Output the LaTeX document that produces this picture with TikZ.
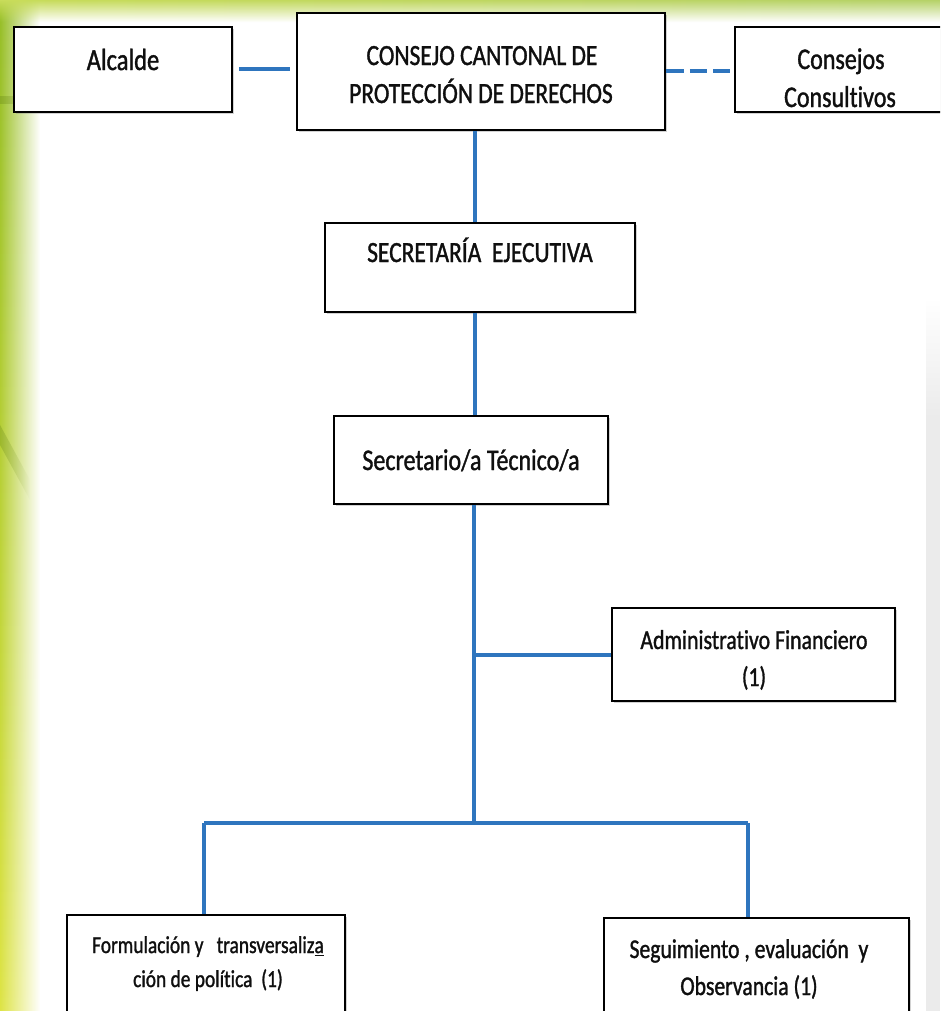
\documentclass[tikz,border=0pt]{standalone}
\usepackage{fontspec}
\setmainfont{Carlito}[FakeStretch=0.8, FakeBold=1.2, Ligatures=NoCommon]
\usetikzlibrary{fit,fadings,shadows}
\definecolor{lineblue}{RGB}{46,117,190}
\definecolor{bggreen}{RGB}{150,190,40}
\definecolor{bgyellow}{RGB}{222,228,70}
\definecolor{bglight}{RGB}{200,220,90}
\definecolor{txtcol}{RGB}{15,15,15}
\tikzfading[name=fadeR, left color=transparent!0, right color=transparent!100]
\tikzfading[name=fadeL, left color=transparent!100, right color=transparent!0]
\tikzfading[name=fadeD, top color=transparent!0, bottom color=transparent!100]
\tikzfading[name=fadeU, top color=transparent!100, bottom color=transparent!0]
\tikzset{
  orgbox/.style={draw=black, line width=2.2pt, fill=white, inner sep=0pt,
    drop shadow={shadow xshift=1.2pt, shadow yshift=-1.2pt, opacity=0.35}},
  conn/.style={draw=lineblue, line width=3.2pt},
  dconn/.style={draw=lineblue, line width=3.2pt, dash pattern=on 13pt off 4.5pt},
  lbl/.style={anchor=base, inner sep=0pt, text=txtcol},
}
\begin{document}
\begin{tikzpicture}[x=0.75pt, y=-0.75pt]
\useasboundingbox (0,0) rectangle (940,1011);
\clip (0,0) rectangle (940,1011);
% background
\fill[white] (0,0) rectangle (940,1011);
\shade[top color=bggreen, bottom color=bgyellow, path fading=fadeR] (0,0) rectangle (40,1011);
\shade[left color=bglight, right color=bggreen!70!white, path fading=fadeD] (0,0) rectangle (940,22);
\fill[bggreen!80!black, path fading=fadeR, opacity=0.5] (0,96) rectangle (28,104);
\fill[bggreen!75!black, path fading=fadeR, opacity=0.35] (0,425) -- (0,445) -- (30,500) -- (30,480) -- cycle;
\fill[black!8, path fading=fadeU] (926,300) rectangle (940,420);
\fill[black!8] (926,420) rectangle (940,1011);

% boxes
\node[orgbox, fit={(14,27) (232,112)}] (alc) {};
\node[orgbox, fit={(297,13) (665,130)}] (con) {};
\node[orgbox, fit={(735,27) (960,112)}] (ccs) {};
\node[orgbox, fit={(325,223) (635,312)}] (sec) {};
\node[orgbox, fit={(334,416) (608,504)}] (tec) {};
\node[orgbox, fit={(612,608) (895,701)}] (adm) {};
\node[orgbox, fit={(67,915) (345,1030)}] (frm) {};
\node[orgbox, fit={(604,918) (909,1030)}] (seg) {};

% labels
\node[lbl, font=\fontsize{23}{27}\selectfont] (alcT) at (123,70) {Alcalde};
\node[lbl, font=\fontsize{22}{27}\selectfont] (conT1) at (482,65) {CONSEJO CANTONAL DE};
\node[lbl, font=\fontsize{22}{27}\selectfont] (conT2) at (481,103) {PROTECCIÓN DE DERECHOS};
\node[lbl, font=\fontsize{22.5}{27}\selectfont] (ccsT1) at (841,69) {Consejos};
\node[lbl, font=\fontsize{22.5}{27}\selectfont] (ccsT2) at (840,107) {Consultivos};
\node[lbl, font=\fontsize{22}{27}\selectfont] (secT) at (480,262) {SECRETARÍA\ \ EJECUTIVA};
\node[lbl, font=\fontsize{22.5}{27}\selectfont] (tecT) at (471,470) {Secretario/a Técnico/a};
\node[lbl, font=\fontsize{20.5}{25}\selectfont] (admT1) at (754,649) {Administrativo Financiero};
\node[lbl, font=\fontsize{20.5}{25}\selectfont] (admT2) at (754,686) {(1)};
\node[lbl, font=\fontsize{18.2}{23}\selectfont] (frmT1) at (208,953) {Formulación y\ \ \ transversaliz\underline{a}};
\node[lbl, font=\fontsize{18.2}{23}\selectfont] (frmT2) at (208,987) {ción de política\ \ (1)};
\node[lbl, font=\fontsize{20.3}{24}\selectfont] (segT1) at (749,958) {Seguimiento , evaluación\ \ y};
\node[lbl, font=\fontsize{20.3}{24}\selectfont] (segT2) at (749,995) {Observancia (1)};

% connectors
\coordinate (trunk) at (475,0);
\coordinate (jadm) at (474,655);
\coordinate (jbot) at (474,823);
\coordinate (jL) at (204,823);
\coordinate (jR) at (748,823);
\draw[conn, shorten <=4pt, shorten >=4pt] (alc.east |- 0,69) -- (con.west |- 0,69);
\draw[dconn] (con.east |- 0,71) -- (ccs.west |- 0,71);
\draw[conn] (con.south -| trunk) -- (sec.north -| trunk);
\draw[conn] (sec.south -| trunk) -- (tec.north -| trunk);
\draw[conn] (tec.south -| jbot) -- (jbot);
\draw[conn] (jadm) -- (adm.west |- jadm);
\draw[conn] (jL) -- (jR);
\draw[conn] (jL) -- (frm.north -| jL);
\draw[conn] (jR) -- (seg.north -| jR);
\end{tikzpicture}
\end{document}
